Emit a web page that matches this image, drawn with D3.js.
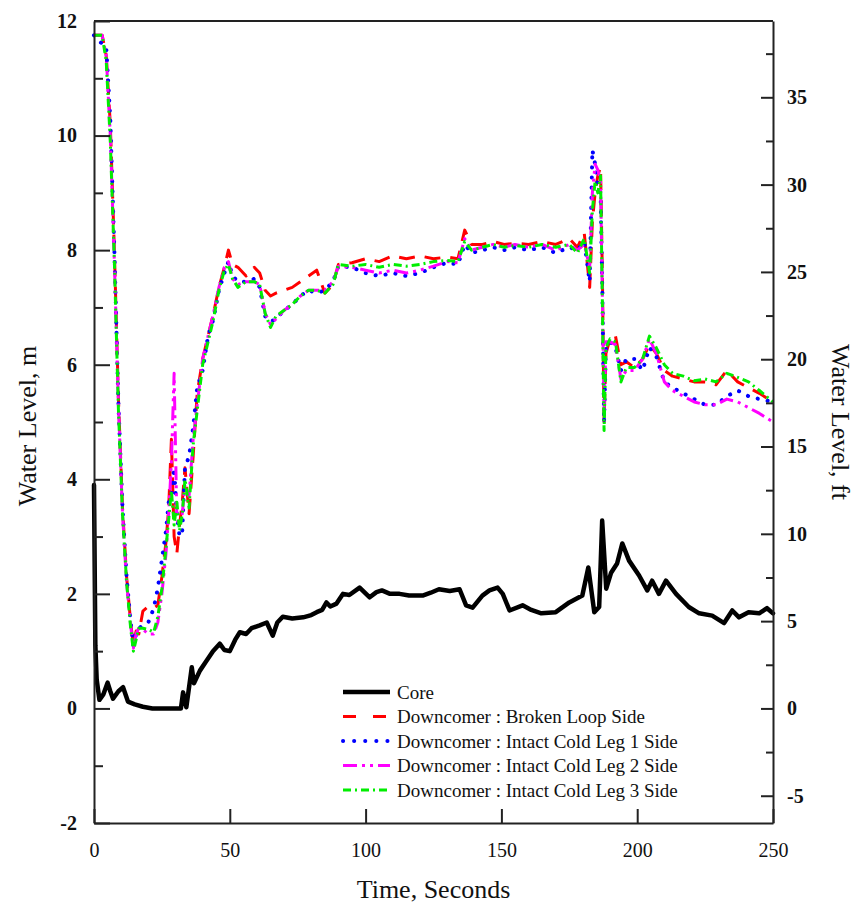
<!DOCTYPE html>
<html>
<head>
<meta charset="utf-8">
<script src="https://cdn.jsdelivr.net/npm/d3@7"></script>
<style>
  body { margin: 0; background: #fff; }
  svg text { font-family: "Liberation Serif", "Times New Roman", serif; fill: #111; }
</style>
</head>
<body>
<div id="chart"></div>
<script>
// core collapsed water level, m
const coreTime = [0, 0.5, 1, 2, 3.5, 5, 6, 7, 9, 10.7,
  12.5, 15, 18, 21.5, 25, 28, 32, 32.8, 34, 36,
  36.8, 39, 41, 43.8, 46.3, 48, 50, 52, 53.7, 56,
  58, 61, 63.6, 65.8, 67.5, 69.5, 73, 77, 80, 82,
  84, 85.6, 87, 89.3, 91.7, 94, 97.8, 101.5, 104, 106,
  109, 112.5, 116, 121, 124, 127, 131, 134.6, 137, 139.4,
  143, 145.6, 148.6, 150.5, 153, 157.8, 161, 164.7, 170, 175,
  179.8, 182, 184.2, 186, 187.1, 188.6, 190.4, 192.6, 194.5, 197,
  200.7, 203.7, 205.5, 208, 210.6, 214.3, 219, 222.8, 227.6, 232,
  235, 237.5, 241, 244.9, 247.8, 250];
const coreLevel = [3.9, 1.1, 0.5, 0.15, 0.25, 0.45, 0.3, 0.17, 0.3, 0.37,
  0.12, 0.07, 0.03, 0, 0, 0, 0, 0.28, 0.02, 0.72,
  0.44, 0.66, 0.8, 1.0, 1.13, 1.02, 1.0, 1.2, 1.33, 1.3,
  1.4, 1.45, 1.5, 1.27, 1.5, 1.6, 1.57, 1.59, 1.63, 1.68,
  1.72, 1.85, 1.78, 1.83, 2.0, 1.98, 2.11, 1.94, 2.03, 2.06,
  2.0, 2.0, 1.97, 1.97, 2.02, 2.08, 2.05, 2.08, 1.8, 1.76,
  1.97, 2.06, 2.11, 2.0, 1.71, 1.8, 1.72, 1.66, 1.68, 1.85,
  1.97, 2.46, 1.68, 1.77, 3.28, 2.09, 2.37, 2.53, 2.88, 2.58,
  2.32, 2.06, 2.23, 2.0, 2.23, 2.0, 1.77, 1.66, 1.62, 1.49,
  1.71, 1.59, 1.68, 1.66, 1.75, 1.66];

// downcomer levels share one time base
const dcTime = [0, 3, 4.5, 6, 7.5, 9, 10.5, 12, 13.5, 14.5,
  15.5, 16.5, 18, 20, 22, 23.5, 25, 26.5, 27.5, 28.5,
  29.5, 30.5, 31.5, 32.5, 33.5, 35, 36.5, 38, 40, 42,
  44, 46, 48, 49.5, 51, 53, 56, 59, 61, 63,
  65, 67, 70, 73, 76, 79, 82, 85, 88, 90,
  95, 100, 105, 110, 115, 120, 125, 130, 134, 136.5,
  139, 143, 147, 151, 155, 160, 165, 170, 175, 178,
  180.5, 182.5, 183.5, 184.5, 185.5, 186.5, 187.2, 187.8, 188.5, 190,
  192, 194, 196, 199, 202, 204.5, 207, 210, 213, 217,
  221, 225, 229, 233, 237, 241, 245, 250];
const brokenLoop = [11.75, 11.75, 11.4, 10.2, 8.0, 5.4, 3.5, 2.3, 1.5, 1.1,
  1.35, 1.3, 1.7, 1.78, 1.75, 1.8, 2.3, 2.9, 3.5, 4.7,
  3.0, 2.7, 3.2, 3.6, 4.2, 3.4, 4.4, 5.5, 6.1, 6.5,
  6.9, 7.35, 7.7, 8.0, 7.75, 7.7, 7.55, 7.7, 7.6, 7.3,
  7.2, 7.25, 7.3, 7.35, 7.45, 7.55, 7.65, 7.25, 7.4, 7.75,
  7.78, 7.85, 7.8, 7.9, 7.85, 7.9, 7.85, 7.88, 7.85, 8.35,
  8.1, 8.1, 8.15, 8.1, 8.12, 8.1, 8.15, 8.1, 8.2, 8.05,
  8.3, 7.35, 8.5, 9.0, 9.3, 9.45, 7.5, 5.0, 6.2, 6.45,
  6.5, 6.0, 6.05, 5.95, 6.1, 6.35, 6.2, 5.9, 5.8, 5.75,
  5.7, 5.7, 5.65, 5.9, 5.7, 5.6, 5.5, 5.35];
const coldLeg1 = [11.75, 11.6, 11.55, 10.3, 8.0, 5.3, 3.5, 2.3, 1.5, 1.1,
  1.3, 1.4, 1.45, 1.5, 1.75, 2.1, 2.6, 3.1, 3.6, 3.7,
  4.2, 3.4, 3.0, 3.1, 4.2, 4.4, 4.9, 5.6, 5.9, 6.5,
  6.8, 7.3, 7.6, 7.8, 7.55, 7.45, 7.45, 7.5, 7.35, 6.85,
  6.75, 6.8, 6.95, 7.05, 7.2, 7.3, 7.25, 7.3, 7.45, 7.72,
  7.7, 7.6, 7.55, 7.6, 7.55, 7.6, 7.7, 7.78, 7.75, 8.1,
  7.95, 8.0, 8.05, 8.0, 8.05, 8.0, 8.05, 7.95, 8.05, 8.0,
  8.15, 7.45, 9.75, 9.5, 9.1, 9.0, 7.2, 5.0, 6.3, 6.4,
  6.3, 5.9, 6.1, 6.1, 5.9, 6.3, 6.15, 5.7, 5.6, 5.5,
  5.4, 5.3, 5.3, 5.45, 5.55, 5.45, 5.4, 5.35];
const coldLeg2 = [11.75, 11.75, 11.4, 10.0, 7.8, 5.3, 3.4, 2.2, 1.45, 1.05,
  1.3, 1.4, 1.38, 1.3, 1.3, 1.5, 2.0, 2.7, 3.4, 4.3,
  5.85, 3.3, 3.2, 3.4, 3.9, 3.7, 4.7, 5.3, 6.1, 6.5,
  6.9, 7.35, 7.7, 7.8, 7.5, 7.4, 7.45, 7.45, 7.4, 6.9,
  6.7, 6.8, 6.95, 7.05, 7.2, 7.3, 7.3, 7.3, 7.45, 7.72,
  7.7, 7.65, 7.6, 7.65, 7.6, 7.65, 7.72, 7.8, 7.78, 8.2,
  8.0, 8.05, 8.1, 8.05, 8.1, 8.05, 8.1, 8.0, 8.1, 8.0,
  8.1, 7.7, 9.0, 9.5, 9.4, 9.2, 7.1, 5.2, 6.4, 6.4,
  6.35, 5.75, 5.9, 5.9, 6.1, 6.45, 6.2, 5.7, 5.55, 5.45,
  5.35, 5.3, 5.3, 5.4, 5.35, 5.25, 5.15, 5.0];
const coldLeg3 = [11.75, 11.75, 11.3, 9.9, 7.8, 5.2, 3.4, 2.2, 1.4, 1.0,
  1.2, 1.4, 1.4, 1.38, 1.33, 1.6, 2.1, 2.8, 3.3, 3.8,
  3.2, 3.6, 3.1, 3.4, 4.0, 3.5, 4.6, 5.2, 6.0, 6.4,
  6.8, 7.3, 7.65, 7.75, 7.5, 7.35, 7.45, 7.45, 7.4, 6.9,
  6.65, 6.85, 6.95, 7.05, 7.2, 7.3, 7.3, 7.25, 7.4, 7.75,
  7.72, 7.75, 7.7, 7.75, 7.72, 7.75, 7.8, 7.82, 7.8, 8.15,
  8.0, 8.05, 8.1, 8.05, 8.08, 8.05, 8.1, 8.05, 8.1, 7.95,
  8.2, 7.6, 8.7, 9.2, 9.0, 9.3, 7.0, 4.85, 6.3, 6.45,
  6.4, 5.7, 5.95, 5.95, 6.1, 6.5, 6.3, 6.0, 5.85, 5.8,
  5.72, 5.75, 5.7, 5.85, 5.78, 5.7, 5.55, 5.35];

const seriesNames = ["Core", "Downcomer : Broken Loop Side", "Downcomer : Intact Cold Leg 1 Side",
  "Downcomer : Intact Cold Leg 2 Side", "Downcomer : Intact Cold Leg 3 Side"];
const xTicks = [0, 50, 100, 150, 200, 250];
const mTicks = [-2, 0, 2, 4, 6, 8, 10, 12];
const ftTicks = [-5, 0, 5, 10, 15, 20, 25, 30, 35];

const M2FT = 3.28084;
const width = 857, height = 904;
const plotLeft = 94, plotRight = 773, plotTop = 21, plotBottom = 823;
const serif = '"Liberation Serif", "Times New Roman", serif';

const svg = d3.select("#chart").append("svg")
    .attr("width", width)
    .attr("height", height);

const x = d3.scaleLinear().domain([0, 250]).range([plotLeft, plotRight]);
const y = d3.scaleLinear().domain([-2, 12]).range([plotBottom, plotTop]);
const yFt = d3.scaleLinear().domain([-2 * M2FT, 12 * M2FT]).range([plotBottom, plotTop]);

const series = [
  { name: seriesNames[1], t: dcTime, v: brokenLoop, color: "#ff0000", w: 3, dash: "16,10", legendDash: "13,17", cap: "butt" },
  { name: seriesNames[2], t: dcTime, v: coldLeg1, color: "#0000ff", w: 4, dash: "0.1,10", legendDash: "0.1,11", cap: "round" },
  { name: seriesNames[3], t: dcTime, v: coldLeg2, color: "#ff00ff", w: 3, dash: "14,5,3,5,3,5", legendDash: "14,5,3,5,3,5", cap: "butt" },
  { name: seriesNames[4], t: dcTime, v: coldLeg3, color: "#00ee00", w: 3, dash: "8,4,2,4", legendDash: "8,4,2,4", cap: "butt" },
  { name: seriesNames[0], t: coreTime, v: coreLevel, color: "#000000", w: 4.5, dash: null, legendDash: null, cap: "round" }
];

const line = d3.line()
    .x(d => x(d[0]))
    .y(d => y(d[1]));

// data lines
svg.append("g")
  .selectAll("path")
  .data(series)
  .join("path")
    .attr("fill", "none")
    .attr("stroke", d => d.color)
    .attr("stroke-width", d => d.w)
    .attr("stroke-dasharray", d => d.dash)
    .attr("stroke-linecap", d => d.cap)
    .attr("stroke-linejoin", "round")
    .attr("d", d => line(d.t.map((t, i) => [t, d.v[i]])));

// axes, ticks point inward
const axisColor = "#222";
const fmt = d => String(d);   // plain hyphen for negatives, as in the original
function styleAxis(g) {
  g.select(".domain").attr("stroke", axisColor).attr("stroke-width", 2);
  g.selectAll(".tick line").attr("stroke", axisColor).attr("stroke-width", 2);
}
function styleLabels(g, bold) {
  g.selectAll(".tick text")
    .style("font-family", serif)
    .style("font-size", "20px")
    .style("font-weight", bold ? "bold" : "normal")
    .style("fill", "#111");
}

svg.append("g")
    .attr("transform", `translate(${plotLeft},0)`)
    .call(d3.axisLeft(y).tickValues(mTicks).tickFormat(fmt).tickSize(-16).tickSizeOuter(0).tickPadding(17))
    .call(styleAxis)
    .call(g => styleLabels(g, true));

svg.append("g")
    .attr("transform", `translate(${plotLeft},0)`)
    .call(d3.axisLeft(y).tickValues([-1, 1, 3, 5, 7, 9, 11]).tickSize(-9).tickSizeOuter(0).tickFormat(""))
    .call(styleAxis)
    .call(g => g.select(".domain").remove());

svg.append("g")
    .attr("transform", `translate(${plotRight},0)`)
    .call(d3.axisRight(yFt).tickValues(ftTicks).tickFormat(fmt).tickSize(-12).tickSizeOuter(0).tickPadding(14))
    .call(styleAxis)
    .call(g => styleLabels(g, true));

svg.append("g")
    .attr("transform", `translate(${plotRight},0)`)
    .call(d3.axisRight(yFt).tickValues(d3.range(-2.5, 38, 5)).tickSize(-7).tickSizeOuter(0).tickFormat(""))
    .call(styleAxis)
    .call(g => g.select(".domain").remove());

svg.append("g")
    .attr("transform", `translate(0,${plotBottom})`)
    .call(d3.axisBottom(x).tickValues(xTicks).tickFormat(fmt).tickSize(-14).tickSizeOuter(0).tickPadding(20))
    .call(styleAxis)
    .call(g => styleLabels(g, false));

// top frame
svg.append("line")
    .attr("x1", plotLeft).attr("x2", plotRight)
    .attr("y1", plotTop).attr("y2", plotTop)
    .attr("stroke", axisColor).attr("stroke-width", 2);

// axis titles
svg.append("text")
    .attr("transform", `translate(30,${(plotTop + plotBottom) / 2 + 4}) rotate(-90)`)
    .attr("text-anchor", "middle")
    .attr("dominant-baseline", "middle")
    .style("font-size", "26px")
    .text("Water Level, m");

svg.append("text")
    .attr("transform", `translate(838,${(plotTop + plotBottom) / 2}) rotate(90)`)
    .attr("text-anchor", "middle")
    .attr("dominant-baseline", "middle")
    .style("font-size", "26px")
    .text("Water Level, ft");

svg.append("text")
    .attr("x", (plotLeft + plotRight) / 2)
    .attr("y", 898)
    .attr("text-anchor", "middle")
    .style("font-size", "26px")
    .text("Time, Seconds");

// legend
const legendOrder = [4, 0, 1, 2, 3];
const legend = svg.append("g")
  .selectAll("g")
  .data(legendOrder.map(i => series[i]))
  .join("g")
    .attr("transform", (d, i) => `translate(343,${692 + i * 24.5})`);

legend.append("line")
    .attr("x1", 0).attr("x2", 47)
    .attr("stroke", d => d.color)
    .attr("stroke-width", d => d.w)
    .attr("stroke-dasharray", d => d.legendDash)
    .attr("stroke-linecap", d => d.legendDash === null ? "butt" : d.cap);

legend.append("text")
    .attr("x", 54)
    .attr("dy", "0.35em")
    .style("font-size", "19px")
    .text(d => d.name);
</script>
</body>
</html>
